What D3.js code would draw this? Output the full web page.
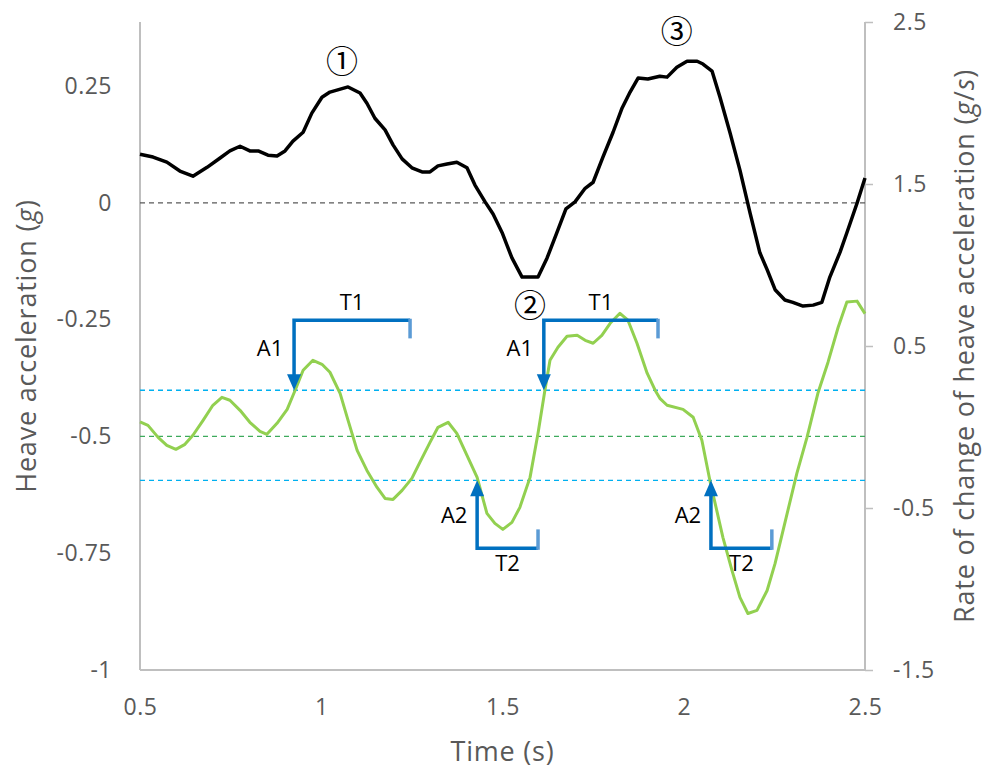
<!DOCTYPE html>
<html>
<head>
<meta charset="utf-8">
<script src="https://cdn.jsdelivr.net/npm/d3@7"></script>
<style>
  body { margin: 0; background: #fff; }
  text { font-family: "Open Sans", "Noto Sans", sans-serif; }
</style>
</head>
<body>
<div id="chart"></div>
<script>
// heave acceleration (g), left axis
var accTime = [0.5, 0.536, 0.574, 0.61, 0.646, 0.685, 0.721, 0.748, 0.776, 0.803, 0.826, 0.853, 0.878, 0.9, 0.922, 0.95, 0.974, 1.002, 1.024, 1.074, 1.107, 1.126, 1.148, 1.176, 1.198, 1.223, 1.25, 1.278, 1.3, 1.322, 1.347, 1.374, 1.402, 1.424, 1.452, 1.474, 1.499, 1.526, 1.554, 1.598, 1.623, 1.65, 1.675, 1.7, 1.728, 1.75, 1.777, 1.805, 1.83, 1.852, 1.874, 1.901, 1.934, 1.954, 1.981, 2.009, 2.037, 2.053, 2.078, 2.1, 2.128, 2.155, 2.183, 2.21, 2.23, 2.252, 2.279, 2.301, 2.329, 2.357, 2.381, 2.403, 2.431, 2.45, 2.478, 2.5];
var accValue = [0.104, 0.098, 0.087, 0.068, 0.057, 0.076, 0.096, 0.111, 0.121, 0.111, 0.111, 0.102, 0.1, 0.111, 0.132, 0.151, 0.192, 0.226, 0.237, 0.248, 0.235, 0.213, 0.181, 0.156, 0.124, 0.094, 0.075, 0.066, 0.066, 0.079, 0.083, 0.087, 0.075, 0.038, 0.002, -0.024, -0.064, -0.118, -0.159, -0.159, -0.118, -0.064, -0.013, 0.002, 0.031, 0.044, 0.098, 0.151, 0.203, 0.237, 0.267, 0.265, 0.271, 0.269, 0.29, 0.303, 0.303, 0.297, 0.282, 0.226, 0.149, 0.07, -0.022, -0.107, -0.143, -0.186, -0.208, -0.213, -0.221, -0.219, -0.213, -0.159, -0.106, -0.064, -0.001, 0.053];

// rate of change of heave acceleration (g/s), right axis
var rateTime = [0.5, 0.522, 0.55, 0.574, 0.599, 0.624, 0.646, 0.674, 0.701, 0.726, 0.748, 0.776, 0.803, 0.831, 0.85, 0.878, 0.906, 0.928, 0.95, 0.977, 1.002, 1.024, 1.052, 1.074, 1.099, 1.126, 1.154, 1.176, 1.198, 1.223, 1.25, 1.272, 1.3, 1.322, 1.35, 1.374, 1.402, 1.43, 1.457, 1.479, 1.501, 1.526, 1.548, 1.576, 1.598, 1.617, 1.631, 1.653, 1.678, 1.706, 1.728, 1.75, 1.774, 1.797, 1.824, 1.846, 1.871, 1.899, 1.921, 1.934, 1.954, 1.998, 2.026, 2.05, 2.072, 2.108, 2.133, 2.155, 2.177, 2.202, 2.23, 2.252, 2.274, 2.312, 2.34, 2.37, 2.398, 2.426, 2.45, 2.478, 2.5];
var rateValue = [0.031, 0.01, -0.064, -0.113, -0.138, -0.107, -0.051, 0.041, 0.134, 0.183, 0.165, 0.103, 0.029, -0.027, -0.045, 0.023, 0.109, 0.227, 0.35, 0.412, 0.387, 0.338, 0.208, 0.041, -0.144, -0.268, -0.373, -0.441, -0.447, -0.391, -0.317, -0.218, -0.095, -0.002, 0.029, -0.039, -0.175, -0.311, -0.533, -0.595, -0.632, -0.589, -0.496, -0.311, -0.039, 0.227, 0.412, 0.492, 0.56, 0.566, 0.535, 0.517, 0.566, 0.64, 0.702, 0.659, 0.517, 0.332, 0.227, 0.177, 0.134, 0.109, 0.06, -0.082, -0.329, -0.681, -0.885, -1.052, -1.151, -1.132, -1.009, -0.842, -0.638, -0.286, -0.064, 0.208, 0.4, 0.616, 0.771, 0.777, 0.7];

var timeTicks = [0.5, 1, 1.5, 2, 2.5];
var leftTicks = [-1, -0.75, -0.5, -0.25, 0, 0.25];
var rightTicks = [-1.5, -0.5, 0.5, 1.5, 2.5];

// reference lines
var zeroLine = 0;           // left axis
var meanLine = -0.5;        // left axis
var thresholds = [0.227, -0.329]; // right axis

// A1 / T1 brackets (right axis units)
var upBrackets = [
  { t0: 0.925, t1: 1.245, top: 0.659, tip: 0.227, end: 0.547 },
  { t0: 1.614, t1: 1.929, top: 0.659, tip: 0.227, end: 0.547 }
];
// A2 / T2 brackets
var downBrackets = [
  { t0: 1.430, t1: 1.598, bottom: -0.749, tip: -0.329, end: -0.632 },
  { t0: 2.075, t1: 2.243, bottom: -0.749, tip: -0.329, end: -0.632 }
];
// circled markers (left axis units)
var markers = [
  { label: "①", t: 1.057, v: 0.297 },
  { label: "②", t: 1.576, v: -0.225 },
  { label: "③", t: 1.981, v: 0.36 }
];

var W = 987, H = 771;
var plotL = 140, plotR = 865, plotT = 22, plotB = 670;

var svg = d3.select('#chart').append('svg')
  .attr('width', W)
  .attr('height', H);

var x = d3.scaleLinear().domain([0.5, 2.5]).range([plotL, plotR]);
var yL = d3.scaleLinear().domain([-1, 0.387]).range([plotB, plotT]);
var yR = d3.scaleLinear().domain([-1.5, 2.5]).range([plotB, plotT]);

var axisColor = '#bfbfbf', labelColor = '#595959';

// axes
var gx = svg.append('g')
  .attr('transform', 'translate(0,' + plotB + ')')
  .call(d3.axisBottom(x).tickValues(timeTicks).tickSize(0).tickPadding(29).tickFormat(String));

var gl = svg.append('g')
  .attr('transform', 'translate(' + plotL + ',0)')
  .call(d3.axisLeft(yL).tickValues(leftTicks).tickSize(0).tickPadding(28).tickFormat(String));

var gr = svg.append('g')
  .attr('transform', 'translate(' + plotR + ',0)')
  .call(d3.axisRight(yR).tickValues(rightTicks).tickSizeInner(8).tickSizeOuter(0).tickPadding(20).tickFormat(String));

[gx, gl, gr].forEach(function(g) {
  g.select('.domain').remove();
  g.selectAll('line').attr('stroke', axisColor).attr('stroke-width', 1.5);
  g.selectAll('text')
    .attr('fill', labelColor)
    .style('font-size', '23px')
    .style('letter-spacing', '0.5px');
});

svg.append('line')
  .attr('x1', plotL).attr('x2', plotL).attr('y1', plotT).attr('y2', plotB)
  .attr('stroke', axisColor).attr('stroke-width', 2);
svg.append('line')
  .attr('x1', plotR).attr('x2', plotR).attr('y1', plotT).attr('y2', plotB)
  .attr('stroke', axisColor).attr('stroke-width', 2);
svg.append('line')
  .attr('x1', plotL).attr('x2', plotR).attr('y1', plotB).attr('y2', plotB)
  .attr('stroke', axisColor).attr('stroke-width', 2);

// axis titles
function title(sel) {
  return sel
    .attr('text-anchor', 'middle')
    .attr('dominant-baseline', 'middle')
    .attr('fill', labelColor)
    .style('font-size', '27px')
    .style('letter-spacing', '0.8px');
}

title(svg.append('text'))
  .attr('transform', 'translate(29,' + ((plotT + plotB) / 2) + ') rotate(-90)')
  .html('Heave acceleration (<tspan font-style="italic">g</tspan>)');

title(svg.append('text'))
  .attr('transform', 'translate(967,' + ((plotT + plotB) / 2) + ') rotate(-90)')
  .html('Rate of change of heave acceleration (<tspan font-style="italic">g</tspan>/<tspan font-style="italic">s</tspan>)');

title(svg.append('text'))
  .attr('x', (plotL + plotR) / 2)
  .attr('y', 754)
  .text('Time (s)');

// reference lines
function hLine(yPos, color, dash) {
  svg.append('line')
    .attr('x1', plotL).attr('x2', plotR)
    .attr('y1', yPos).attr('y2', yPos)
    .attr('stroke', color)
    .attr('stroke-width', 1.3)
    .attr('stroke-dasharray', dash);
}
hLine(yL(zeroLine), '#595959', '5,4');
hLine(yL(meanLine), '#3daa5c', '5,4');
thresholds.forEach(function(v) { hLine(yR(v), '#00b0f0', '5,4'); });

// series
var accLine = d3.line()
  .x(function(d, i) { return x(accTime[i]); })
  .y(function(d) { return yL(d); });
svg.append('path')
  .datum(accValue)
  .attr('d', accLine)
  .attr('fill', 'none')
  .attr('stroke', '#000')
  .attr('stroke-width', 3.5)
  .attr('stroke-linejoin', 'round');

var rateLine = d3.line()
  .x(function(d, i) { return x(rateTime[i]); })
  .y(function(d) { return yR(d); });
svg.append('path')
  .datum(rateValue)
  .attr('d', rateLine)
  .attr('fill', 'none')
  .attr('stroke', '#92d050')
  .attr('stroke-width', 3)
  .attr('stroke-linejoin', 'round');

// brackets
var blue = '#0070c0', lightBlue = '#5b9bd5';
var ah = 16, aw = 7;

function label(xp, yp, txt) {
  svg.append('text')
    .attr('x', xp).attr('y', yp)
    .attr('text-anchor', 'middle')
    .attr('dominant-baseline', 'middle')
    .attr('fill', '#000')
    .style('font-size', '22px')
    .text(txt);
}

upBrackets.forEach(function(b) {
  var x0 = x(b.t0), x1 = x(b.t1), yt = yR(b.top), yTip = yR(b.tip);
  svg.append('path')
    .attr('d', 'M' + x0 + ',' + (yTip - ah + 1) + 'V' + yt + 'H' + x1)
    .attr('fill', 'none').attr('stroke', blue).attr('stroke-width', 3.5);
  svg.append('line')
    .attr('x1', x1).attr('x2', x1).attr('y1', yt - 1.5).attr('y2', yR(b.end))
    .attr('stroke', lightBlue).attr('stroke-width', 3.5);
  svg.append('path')
    .attr('d', 'M' + (x0 - aw) + ',' + (yTip - ah) + 'L' + (x0 + aw) + ',' + (yTip - ah) + 'L' + x0 + ',' + yTip + 'Z')
    .attr('fill', blue);
  label(x0 - 24, yt + 30, 'A1');
  label((x0 + x1) / 2, yt - 16, 'T1');
});

downBrackets.forEach(function(b) {
  var x0 = x(b.t0), x1 = x(b.t1), yb = yR(b.bottom), yTip = yR(b.tip);
  svg.append('path')
    .attr('d', 'M' + x0 + ',' + (yTip + ah - 1) + 'V' + yb + 'H' + x1)
    .attr('fill', 'none').attr('stroke', blue).attr('stroke-width', 3.5);
  svg.append('line')
    .attr('x1', x1).attr('x2', x1).attr('y1', yb + 1.5).attr('y2', yR(b.end))
    .attr('stroke', lightBlue).attr('stroke-width', 3.5);
  svg.append('path')
    .attr('d', 'M' + (x0 - aw) + ',' + (yTip + ah) + 'L' + (x0 + aw) + ',' + (yTip + ah) + 'L' + x0 + ',' + yTip + 'Z')
    .attr('fill', blue);
  label(x0 - 23, yb - 31, 'A2');
  label((x0 + x1) / 2, yb + 17, 'T2');
});

// circled markers
svg.selectAll('.marker')
  .data(markers)
  .enter().append('text')
  .attr('class', 'marker')
  .attr('x', function(d) { return x(d.t); })
  .attr('y', function(d) { return yL(d.v); })
  .attr('text-anchor', 'middle')
  .attr('dominant-baseline', 'middle')
  .style('font-family', '"Noto Sans CJK JP", "DejaVu Sans", sans-serif')
  .style('font-size', '32px')
  .attr('fill', '#000')
  .text(function(d) { return d.label; });
</script>
</body>
</html>
